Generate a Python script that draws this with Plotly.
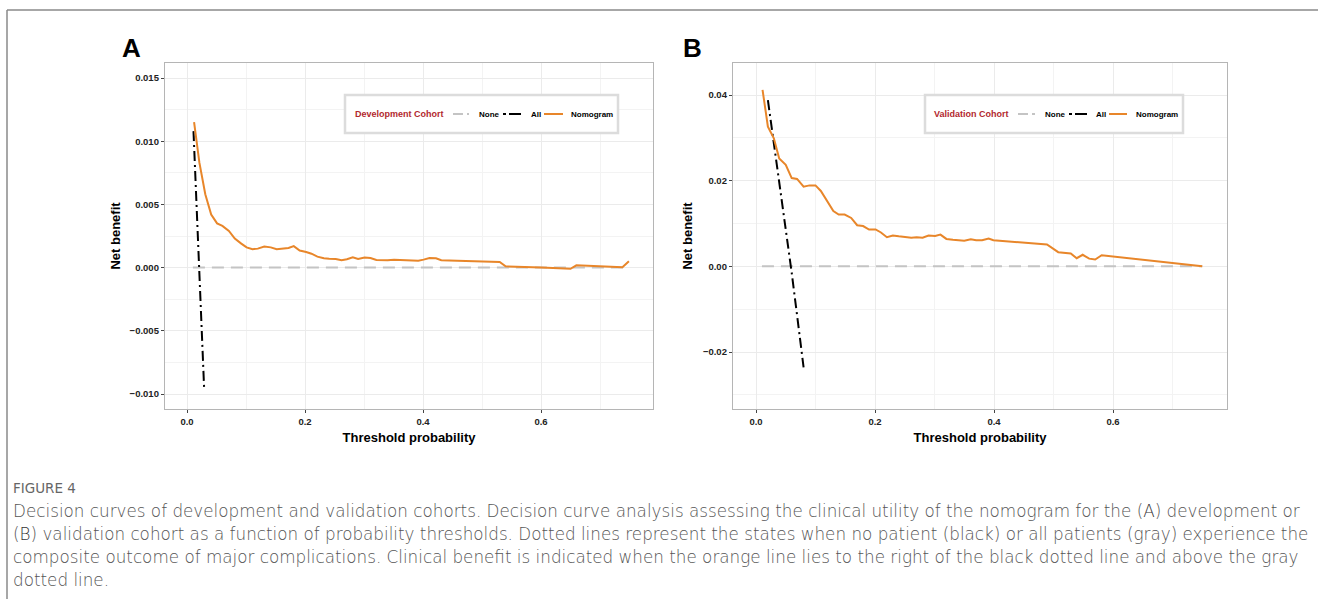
import plotly.graph_objects as go

W, H = 1318, 599

# ---------------- data ----------------
dev_x = [0.012, 0.021, 0.031, 0.041, 0.051, 0.060, 0.071, 0.081, 0.092, 0.101, 0.111, 0.120,
         0.131, 0.142, 0.152, 0.161, 0.172, 0.181, 0.191, 0.202, 0.211, 0.221, 0.232, 0.241,
         0.252, 0.262, 0.271, 0.281, 0.290, 0.301, 0.311, 0.321, 0.331, 0.340, 0.351, 0.361,
         0.392, 0.401, 0.411, 0.422, 0.431, 0.458, 0.530, 0.540, 0.548, 0.600, 0.650, 0.660,
         0.738, 0.749]
dev_nomogram = [0.0115, 0.0083, 0.0058, 0.0042, 0.0035, 0.0033, 0.0029, 0.0023, 0.0019, 0.0016,
                0.00145, 0.0015, 0.00166, 0.0016, 0.00145, 0.0015, 0.00155, 0.0017, 0.00135,
                0.00124, 0.0011, 0.00087, 0.00074, 0.0007, 0.00068, 0.00058, 0.00066, 0.00082,
                0.00068, 0.00079, 0.00076, 0.0006, 0.00058, 0.00058, 0.00063, 0.0006, 0.00055,
                0.00063, 0.00076, 0.00074, 0.00058, 0.00055, 0.00045, 0.0001, 0.00008, 0.0,
                -0.0001, 0.00018, 0.00003, 0.0005]
dev_all_x = [0.011, 0.020, 0.029]
dev_all = [0.0108, 0.0006, -0.0095]
dev_none_x = [0.01, 0.75]
dev_none = [0.0, 0.0]

val_x = [0.011, 0.020, 0.030, 0.039, 0.050, 0.060, 0.069, 0.080, 0.090, 0.100, 0.109, 0.120,
         0.130, 0.139, 0.149, 0.160, 0.170, 0.180, 0.190, 0.201, 0.210, 0.220, 0.230, 0.240,
         0.250, 0.261, 0.270, 0.280, 0.290, 0.301, 0.310, 0.320, 0.331, 0.340, 0.350, 0.361,
         0.370, 0.380, 0.391, 0.399, 0.489, 0.508, 0.529, 0.539, 0.549, 0.560, 0.570, 0.581,
         0.650, 0.710, 0.750]
val_nomogram = [0.0412, 0.0326, 0.0299, 0.0252, 0.0237, 0.0206, 0.0204, 0.0186, 0.0189, 0.0189,
                0.0176, 0.0152, 0.0129, 0.0121, 0.0121, 0.0113, 0.0096, 0.0094, 0.0086, 0.0086,
                0.0079, 0.0068, 0.0072, 0.0070, 0.0068, 0.0067, 0.0068, 0.0067, 0.0072, 0.0071,
                0.0074, 0.0064, 0.0062, 0.0061, 0.0060, 0.0063, 0.0061, 0.0061, 0.0065, 0.0061,
                0.0051, 0.0033, 0.0030, 0.0019, 0.0027, 0.0018, 0.0016, 0.0026, 0.0016, 0.0007,
                0.0]
val_all_x = [0.02, 0.03, 0.04, 0.05, 0.06, 0.07, 0.08]
val_all = [0.0388, 0.0290, 0.0190, 0.0085, -0.0015, -0.0125, -0.0236]
val_none_x = [0.01, 0.75]
val_none = [0.0, 0.0]

x_ticks = [0.0, 0.2, 0.4, 0.6]
dev_y_ticks = [-0.010, -0.005, 0.000, 0.005, 0.010, 0.015]
val_y_ticks = [-0.02, 0.00, 0.02, 0.04]

series_names = ["None", "All", "Nomogram"]
cohort_titles = ["Development Cohort", "Validation Cohort"]
panel_labels = ["A", "B"]

caption_head = "FIGURE 4"
caption_lines = [
    "Decision curves of development and validation cohorts. Decision curve analysis assessing the clinical utility of the nomogram for the (<span style='color:#333'>A</span>) development or",
    "(<span style='color:#333'>B</span>) validation cohort as a function of probability thresholds. Dotted lines represent the states when no patient (black) or all patients (gray) experience the",
    "composite outcome of major complications. Clinical benefit is indicated when the orange line lies to the right of the black dotted line and above the gray",
    "dotted line.",
]

# ---------------- styling ----------------
ORANGE = "#E8862A"
NONE_C = "#c4c4c4"
TITLE_RED = "#B2282E"
FONT = "Liberation Sans"
NONE_DASH = "12px,7px"
ALL_DASH = "10px,4px,2px,4px"


def px_x(p):
    return p / W


def px_y(p):
    return 1 - p / H


fig = go.Figure()


def add_panel(xs, ys, ax, none_x, none_y, all_x, all_y):
    xa = "x" if ax == 1 else f"x{ax}"
    ya = "y" if ax == 1 else f"y{ax}"
    fig.add_trace(go.Scatter(x=none_x, y=none_y, mode="lines", name=series_names[0],
                             line=dict(color=NONE_C, width=2, dash=NONE_DASH),
                             xaxis=xa, yaxis=ya, showlegend=False))
    fig.add_trace(go.Scatter(x=all_x, y=all_y, mode="lines", name=series_names[1],
                             line=dict(color="black", width=2, dash=ALL_DASH),
                             xaxis=xa, yaxis=ya, showlegend=False))
    fig.add_trace(go.Scatter(x=xs, y=ys, mode="lines", name=series_names[2],
                             line=dict(color=ORANGE, width=2),
                             xaxis=xa, yaxis=ya, showlegend=False))


add_panel(dev_x, dev_nomogram, 1, dev_none_x, dev_none, dev_all_x, dev_all)
add_panel(val_x, val_nomogram, 2, val_none_x, val_none, val_all_x, val_all)

axA_left, axA_right, axA_top, axA_bot = 165, 653, 63, 409
axB_left, axB_right, axB_top, axB_bot = 733, 1227, 63, 409


def rng(lo_px, hi_px, v0_px, v0, v1_px, v1):
    s = (v1 - v0) / (v1_px - v0_px)
    return [v0 + (lo_px - v0_px) * s, v0 + (hi_px - v0_px) * s]


xA = rng(axA_left, axA_right, 187, 0.0, 541, 0.6)
yA = rng(axA_bot, axA_top, 394, -0.010, 78, 0.015)
xB = rng(axB_left, axB_right, 756, 0.0, 1113, 0.6)
yB = rng(axB_bot, axB_top, 352, -0.02, 95, 0.04)

tickfont = dict(family=FONT, size=9.5, color="#222", weight="bold")
titlefont = dict(family=FONT, size=13, color="black", weight="bold")
common_axis = dict(showline=True, mirror=True, linecolor="#b5b5b5", linewidth=1.3,
                   showgrid=True, gridcolor="#ebebeb", gridwidth=1, zeroline=False,
                   ticks="outside", ticklen=3, tickcolor="#444", tickwidth=1,
                   tickfont=tickfont)

fig.update_layout(
    width=W, height=H, margin=dict(l=0, r=0, t=0, b=0),
    paper_bgcolor="white", plot_bgcolor="white", showlegend=False,
    xaxis=dict(domain=[px_x(axA_left), px_x(axA_right)], anchor="y", range=xA,
               tickvals=x_ticks, tickformat=".1f",
               minor=dict(showgrid=True, gridcolor="#f3f3f3", dtick=0.1, tick0=0),
               title=dict(text="Threshold probability", font=titlefont, standoff=7),
               **common_axis),
    yaxis=dict(domain=[px_y(axA_bot), px_y(axA_top)], anchor="x", range=yA,
               tickvals=dev_y_ticks, tickformat=".3f",
               minor=dict(showgrid=True, gridcolor="#f3f3f3", dtick=0.0025, tick0=0),
               title=dict(text="Net benefit", font=titlefont, standoff=6),
               **common_axis),
    xaxis2=dict(domain=[px_x(axB_left), px_x(axB_right)], anchor="y2", range=xB,
                tickvals=x_ticks, tickformat=".1f",
                minor=dict(showgrid=True, gridcolor="#f3f3f3", dtick=0.1, tick0=0),
                title=dict(text="Threshold probability", font=titlefont, standoff=7),
                **common_axis),
    yaxis2=dict(domain=[px_y(axB_bot), px_y(axB_top)], anchor="x2", range=yB,
                tickvals=val_y_ticks, tickformat=".2f",
                minor=dict(showgrid=True, gridcolor="#f3f3f3", dtick=0.01, tick0=0),
                title=dict(text="Net benefit", font=titlefont, standoff=7),
                **common_axis),
)

annotations = []
shapes = []

# panel letters
for lab, xp in zip(panel_labels, [131, 692]):
    annotations.append(dict(text=lab, x=px_x(xp), y=px_y(48), xref="paper", yref="paper",
                            showarrow=False, xanchor="center", yanchor="middle",
                            font=dict(family=FONT, size=26, color="black", weight="bold")))

# legends (manual, ggplot-style boxes)
legend_specs = [
    dict(box=(345, 618), title_x=353, keys=[(453, 469, 477), (503, 521, 529), (544, 563, 569)]),
    dict(box=(925, 1183), title_x=932, keys=[(1018, 1035, 1043), (1069, 1087, 1094), (1109, 1127, 1134)]),
]
key_styles = [dict(color=NONE_C, dash="10px,4px"), dict(color="black", dash="3px,3px,12px,3px"),
              dict(color=ORANGE, dash="solid")]
LEG_TOP, LEG_BOT, LEG_MID = 95, 133, 114
for spec, ttl in zip(legend_specs, cohort_titles):
    x0, x1 = spec["box"]
    shapes.append(dict(type="rect", xref="paper", yref="paper", x0=px_x(x0), x1=px_x(x1),
                       y0=px_y(LEG_BOT), y1=px_y(LEG_TOP), fillcolor="white",
                       line=dict(color="#dcdcdc", width=2.5), layer="above"))
    annotations.append(dict(text=ttl, x=px_x(spec["title_x"]), y=px_y(LEG_MID), xref="paper",
                            yref="paper", showarrow=False, xanchor="left", yanchor="middle",
                            font=dict(family=FONT, size=9, color=TITLE_RED, weight="bold")))
    for (lx0, lx1, tx), nm, st in zip(spec["keys"], series_names, key_styles):
        shapes.append(dict(type="line", xref="paper", yref="paper", x0=px_x(lx0), x1=px_x(lx1),
                           y0=px_y(LEG_MID), y1=px_y(LEG_MID), layer="above",
                           line=dict(color=st["color"], width=2, dash=st["dash"])))
        annotations.append(dict(text=nm, x=px_x(tx), y=px_y(LEG_MID), xref="paper", yref="paper",
                                showarrow=False, xanchor="left", yanchor="middle",
                                font=dict(family=FONT, size=8, color="black", weight="bold")))

# caption
CAP_FONT = "DejaVu Sans"
annotations.append(dict(text=caption_head, x=px_x(11), y=px_y(488), xref="paper", yref="paper",
                        showarrow=False, xanchor="left", yanchor="middle",
                        font=dict(family=CAP_FONT, size=13.5, color="#666666")))
for i, line in enumerate(caption_lines):
    annotations.append(dict(text=line, x=px_x(11), y=px_y(511 + 23 * i), xref="paper", yref="paper",
                            showarrow=False, xanchor="left", yanchor="middle",
                            font=dict(family=CAP_FONT, size=16.8, color="#555555", weight=200)))

# outer frame (top and left lines)
shapes.append(dict(type="line", xref="paper", yref="paper", x0=px_x(7), x1=1, y0=px_y(10), y1=px_y(10),
                   line=dict(color="#8a8a8a", width=1.5)))
shapes.append(dict(type="line", xref="paper", yref="paper", x0=px_x(7), x1=px_x(7), y0=px_y(10), y1=0,
                   line=dict(color="#8a8a8a", width=1.5)))

fig.update_layout(annotations=annotations, shapes=shapes)

fig.write_html("out.html", config={"displayModeBar": False},
               post_script="document.body.style.margin='0px';")
